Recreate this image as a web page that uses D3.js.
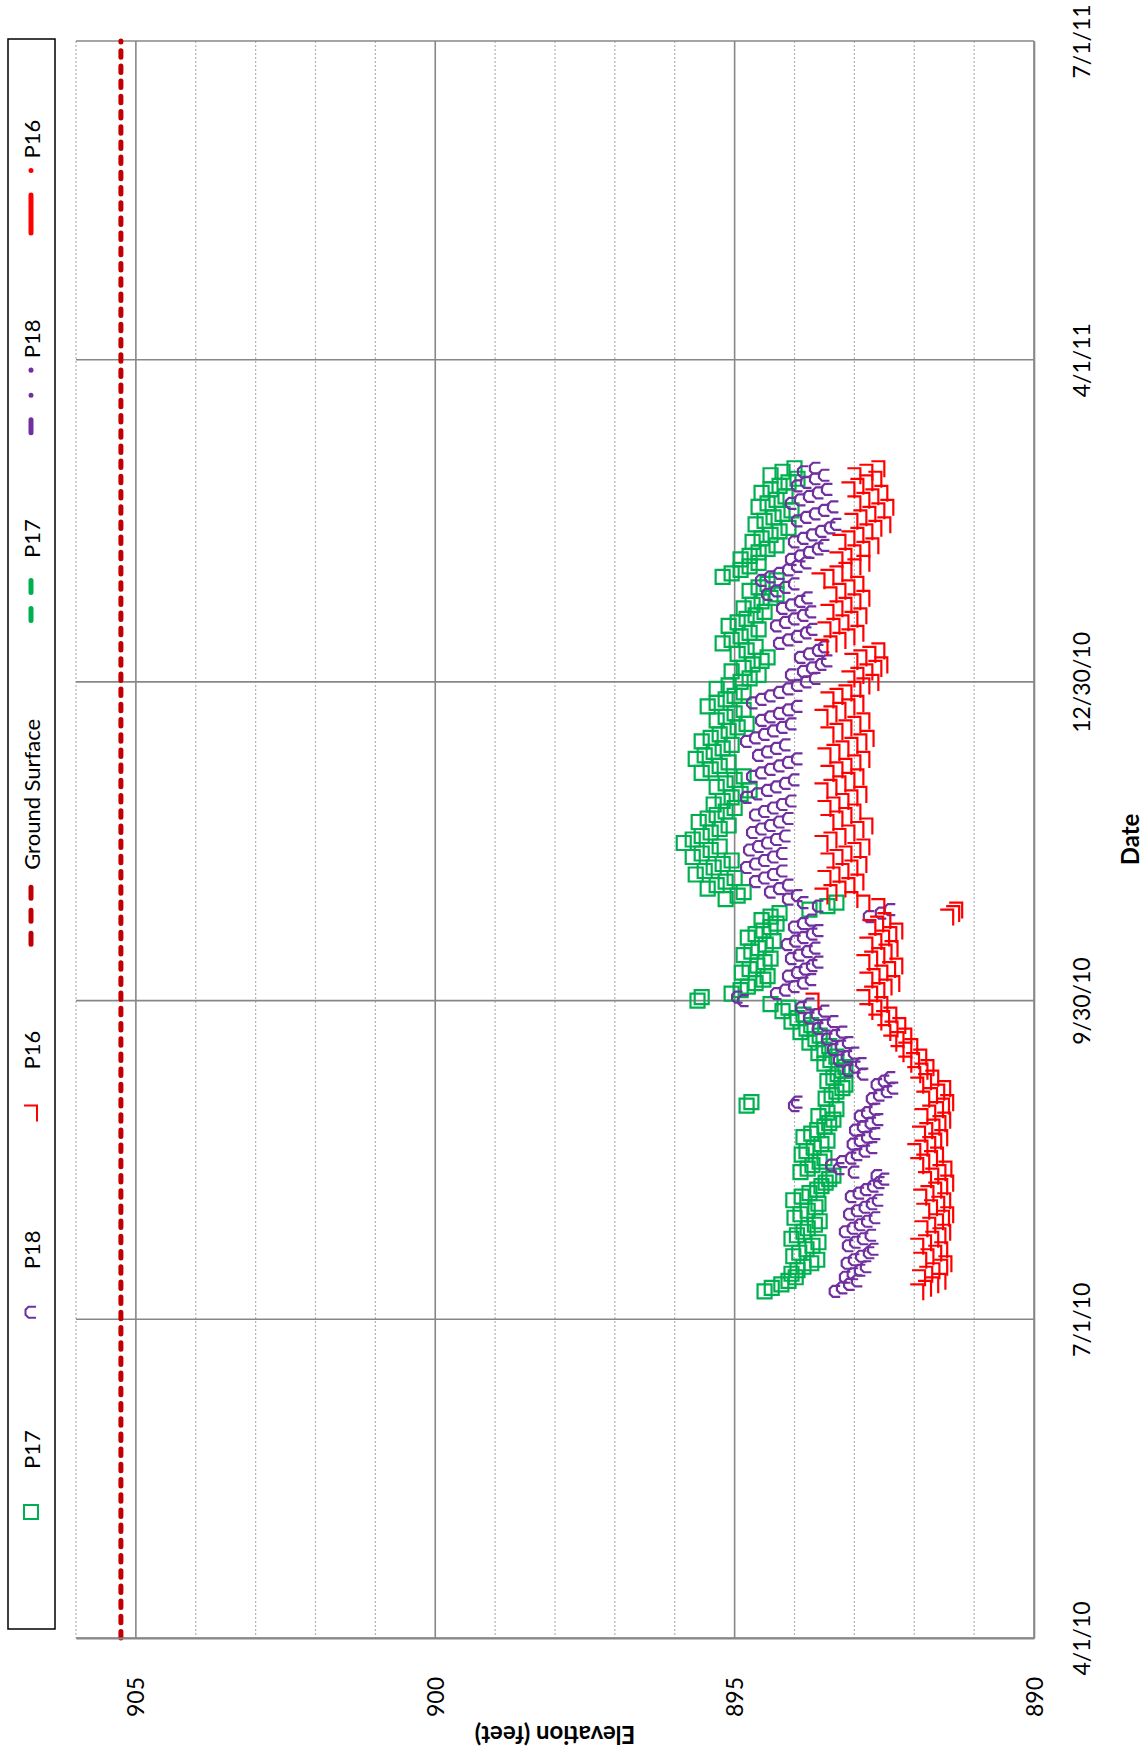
<!DOCTYPE html>
<html>
<head>
<meta charset="utf-8">
<script src="https://cdn.jsdelivr.net/npm/d3@7"></script>
<style>
  body { margin: 0; background: #fff; }
  svg { display: block; font-family: Lato, "Open Sans", sans-serif; }
</style>
</head>
<body>
<svg id="chart"></svg>
<script>
const width = 1144
const height = 1754
// plot box (the whole chart is laid out turned on its side)
const plot = { left: 76, right: 1034, top: 41, bottom: 1638 }

// daily readings, the first one taken on firstDay
const firstDay = "2010-07-09"

const p17 = [
  894.50, 894.38, 894.22, 894.10, 893.98, 894.05, 893.95, 893.85, 893.72, 893.62,
  894.02, 893.92, 893.80, 893.70, 893.60, 894.05, 893.96, 893.85, 893.78, 893.66,
  893.58, 894.00, 893.90, 893.78, 893.65, 893.60, 894.02, 893.88, 893.75, 893.62,
  893.55, 893.48, 893.42, 893.35, 893.90, 893.78, 893.70, 893.58, 893.50, 893.88,
  893.80, 893.68, 893.55, 893.45, 893.85, 893.72, 893.62, 893.50, 893.42, 893.35,
  893.60, 893.45, 893.30, 894.80, 894.72, 893.48, 893.38, 893.30, 893.20, 893.15,
  893.45, 893.35, 893.28, 893.20, 893.15, 893.50, 893.40, 893.30, 893.60, 893.50,
  893.42, 893.75, 893.65, 893.58, 893.90, 893.80, 893.72, 894.05, 893.95, 893.85,
  894.20, 894.10, 894.40, 895.62, 895.55, 895.05, 894.90, 894.78, 894.65, 894.52,
  894.45, 894.88, 894.75, 894.62, 894.50, 894.40, 894.85, 894.72, 894.60, 894.48,
  894.35, 894.78, 894.65, 894.52, 894.40, 894.30, 894.55, 894.40, 894.25, 893.75,
  893.45, 893.30, 895.15, 894.95, 894.85, 895.45, 895.30, 895.15, 895.00, 895.65,
  895.50, 895.35, 895.20, 895.05, 895.70, 895.55, 895.40, 895.25, 895.85, 895.70,
  895.55, 895.40, 895.25, 895.10, 895.60, 895.45, 895.30, 895.15, 895.00, 895.35,
  895.20, 895.05, 894.90, 894.75, 895.30, 895.15, 895.00, 894.85, 895.55, 895.40,
  895.25, 895.10, 895.65, 895.50, 895.35, 895.20, 895.05, 895.55, 895.40, 895.25,
  895.10, 894.95, 894.80, 895.30, 895.15, 895.00, 894.85, 895.45, 895.30, 895.15,
  895.00, 894.85, 895.30, 895.10, 894.90, 894.75, 894.60, 895.05, 894.85, 894.70,
  894.55, 894.45, 894.95, 894.80, 894.65, 895.20, 895.05, 894.90, 894.75, 894.60,
  895.10, 894.95, 894.80, 894.65, 894.50, 894.85, 894.70, 894.55, 894.40, 894.30,
  894.75, 894.60, 894.45, 894.30, 895.20, 895.05, 894.90, 894.75, 894.60, 894.90,
  894.75, 894.60, 894.45, 894.30, 894.70, 894.55, 894.40, 894.25, 894.10, 894.65,
  894.50, 894.35, 894.20, 894.05, 894.60, 894.45, 894.30, 894.15, 894.55, 894.40,
  894.25, 894.10, 893.95, 894.40, 894.20, 894.00
]

const p18 = [
  893.32, 893.20, 893.08, 892.95, 893.15, 893.02, 892.90, 892.80, 893.12, 893.00,
  892.88, 892.75, 892.68, 893.10, 892.98, 892.85, 892.72, 893.15, 893.02, 892.90,
  892.78, 892.65, 893.08, 892.95, 892.82, 892.70, 892.60, 893.05, 892.92, 892.80,
  892.68, 892.58, 892.50, 892.62, 893.00, 893.25, 893.38, 893.20, 893.05, 892.95,
  892.82, 892.70, 893.02, 892.90, 892.78, 892.65, 892.98, 892.85, 892.72, 892.60,
  892.90, 892.78, 892.65, 894.00, 893.95, 892.70, 892.58, 892.45, 892.35, 892.62,
  892.50, 892.40, 892.85, 893.10, 892.98, 892.88, 893.25, 893.12, 893.00, 893.35,
  893.22, 893.10, 893.45, 893.32, 893.20, 893.60, 893.48, 893.35, 893.75, 893.62,
  893.50, 893.88, 893.75, 894.85, 894.95, 894.30, 894.15, 894.00, 893.85, 893.72,
  894.10, 893.95, 893.82, 893.70, 893.60, 894.05, 893.92, 893.78, 893.65, 894.12,
  893.98, 893.85, 893.70, 893.60, 894.00, 893.85, 893.72, 892.75, 892.55, 892.40,
  893.60, 893.85, 894.10, 893.95, 894.40, 894.25, 894.10, 894.65, 894.50, 894.35,
  894.20, 894.80, 894.65, 894.50, 894.35, 894.20, 894.75, 894.60, 894.45, 894.30,
  894.15, 894.70, 894.55, 894.40, 894.25, 894.10, 894.65, 894.50, 894.35, 894.20,
  894.05, 894.80, 894.62, 894.45, 894.30, 894.15, 894.00, 894.70, 894.55, 894.40,
  894.25, 894.10, 893.95, 894.60, 894.45, 894.30, 894.15, 894.80, 894.65, 894.50,
  894.35, 894.20, 894.05, 894.55, 894.40, 894.25, 894.10, 893.95, 894.70, 894.55,
  894.40, 894.25, 894.10, 893.95, 893.80, 893.65, 894.05, 893.85, 893.70, 893.55,
  893.45, 893.90, 893.75, 893.60, 893.50, 894.25, 894.10, 893.95, 893.80, 893.70,
  894.30, 894.15, 894.00, 893.85, 893.72, 894.20, 894.05, 893.90, 893.78, 894.45,
  894.30, 894.15, 894.00, 894.55, 894.40, 894.25, 894.10, 893.95, 893.80, 894.05,
  893.90, 893.75, 893.60, 893.50, 894.00, 893.85, 893.70, 893.55, 893.40, 893.30,
  893.95, 893.80, 893.65, 893.50, 893.35, 894.05, 893.90, 893.75, 893.60, 893.45,
  893.95, 893.80, 893.65, 893.50, 893.85, 893.65
]

const p16 = [
  891.95, 891.82, 891.70, 891.58, 891.92, 891.80, 891.68, 891.55, 891.48, 891.90,
  891.78, 891.65, 891.55, 891.95, 891.82, 891.70, 891.58, 891.50, 891.88, 891.75,
  891.62, 891.52, 891.45, 891.85, 891.72, 891.60, 891.50, 891.90, 891.78, 891.65,
  891.55, 891.45, 891.82, 891.70, 891.58, 891.48, 891.95, 891.85, 891.72, 891.62,
  892.00, 891.88, 891.75, 891.65, 891.55, 891.92, 891.80, 891.68, 891.58, 891.50,
  891.88, 891.75, 891.62, 891.52, 891.45, 891.85, 891.72, 891.60, 891.50, 891.95,
  891.82, 891.70, 892.00, 891.88, 891.78, 892.15, 892.02, 891.90, 892.28, 892.15,
  892.05, 892.40, 892.28, 892.15, 892.50, 892.38, 892.25, 892.65, 892.52, 892.40,
  892.80, 892.65, 892.55, 893.70, 892.85, 892.72, 892.60, 892.48, 892.35, 892.80,
  892.68, 892.55, 892.42, 892.30, 892.85, 892.72, 892.60, 892.48, 892.38, 892.80,
  892.65, 892.52, 892.40, 892.30, 892.75, 892.62, 892.50, 891.45, 891.35, 891.30,
  892.60, 892.85, 893.05, 893.55, 893.40, 893.25, 893.10, 892.95, 893.50, 893.35,
  893.20, 893.05, 892.90, 893.45, 893.30, 893.15, 893.00, 892.85, 893.55, 893.40,
  893.25, 893.10, 892.95, 892.80, 893.45, 893.30, 893.15, 893.00, 893.50, 893.35,
  893.20, 893.05, 892.90, 893.55, 893.40, 893.25, 893.10, 892.95, 893.45, 893.30,
  893.15, 893.00, 892.85, 893.50, 893.35, 893.20, 893.05, 892.90, 892.78, 893.45,
  893.30, 893.15, 893.00, 892.85, 893.55, 893.40, 893.25, 893.10, 892.95, 893.45,
  893.30, 893.15, 893.00, 892.85, 892.70, 893.10, 892.95, 892.80, 892.65, 892.55,
  893.05, 892.90, 892.75, 892.60, 893.55, 893.40, 893.25, 893.10, 892.95, 893.50,
  893.35, 893.20, 893.05, 892.90, 893.45, 893.30, 893.15, 893.00, 892.85, 893.40,
  893.25, 893.10, 892.95, 893.60, 893.45, 893.30, 893.15, 893.00, 892.85, 893.30,
  893.15, 893.00, 892.85, 892.70, 893.25, 893.10, 892.95, 892.80, 892.65, 892.50,
  893.05, 892.90, 892.75, 892.60, 892.45, 893.00, 892.85, 892.70, 892.55, 893.10,
  892.95, 892.80, 892.65, 893.00, 892.80, 892.60
]

const groundDates = ["2010-04-01", "2011-07-01"]
const groundSurface = [905.25, 905.25]

const elevTicks = [905, 900, 895, 890]
const dateTicks = ["2010-04-01", "2010-07-01", "2010-09-30", "2010-12-30", "2011-04-01", "2011-07-01"]
const dateLabels = ["4/1/10", "7/1/10", "9/30/10", "12/30/10", "4/1/11", "7/1/11"]
const legendNames = ["P17", "P18", "P16", "Ground Surface", "P17", "P18", "P16"]

const parse = d3.utcParse("%Y-%m-%d")
const start = parse(firstDay)

const toPoints = vals => vals.map((v, i) => ({ date: d3.utcDay.offset(start, i), v }))

const green = "#00B050", purple = "#7030A0", red = "#FF0000", darkRed = "#C00000"
const gridMajor = "#878787", gridMinor = "#B4B4B4"

const shapes = {
  square: "M-7,-7H7V7H-7Z",
  bracket: "M5,-5.5H-2.5L-5.5,-2.5V2.5L-2.5,5.5H5",
  hook: "M-7,-7H6V9"
}

const series = [
  { data: toPoints(p17), color: green, shape: shapes.square },
  { data: toPoints(p18), color: purple, shape: shapes.bracket },
  { data: toPoints(p16), color: red, shape: shapes.hook }
]

const x = d3.scaleLinear()
  .domain([906, 890])
  .range([plot.left, plot.right])

const y = d3.scaleUtc()
  .domain([parse(dateTicks[0]), parse(dateTicks[dateTicks.length - 1])])
  .range([plot.bottom, plot.top])

const svg = d3.select("#chart")
  .attr("width", width)
  .attr("height", height)
  .attr("viewBox", [0, 0, width, height])

// elevation grid, solid every 5 ft, dotted every foot
svg.append("g")
  .attr("class", "grid-elev")
  .selectAll("line")
  .data(d3.range(890, 907))
  .join("line")
  .attr("x1", d => x(d)).attr("x2", d => x(d))
  .attr("y1", plot.top).attr("y2", plot.bottom)
  .attr("stroke", d => d % 5 === 0 ? gridMajor : gridMinor)
  .attr("stroke-width", d => d % 5 === 0 ? 1.6 : 1.2)
  .attr("stroke-dasharray", d => d % 5 === 0 ? null : "2,2")

svg.append("g")
  .attr("class", "grid-date")
  .selectAll("line")
  .data(dateTicks.map(parse))
  .join("line")
  .attr("x1", plot.left).attr("x2", plot.right)
  .attr("y1", d => y(d)).attr("y2", d => y(d))
  .attr("stroke", gridMajor)
  .attr("stroke-width", 1.6)

// point series
svg.append("g")
  .attr("class", "series")
  .selectAll("g")
  .data(series)
  .join("g")
  .attr("stroke", d => d.color)
  .each(function (s) {
    d3.select(this).selectAll("path")
      .data(s.data)
      .join("path")
      .attr("d", s.shape)
      .attr("transform", d => `translate(${x(d.v)},${y(d.date)})`)
      .attr("fill", "none")
      .attr("stroke-width", 2.2)
  })

// ground surface
const groundLine = d3.line()
  .x(d => x(d.v))
  .y(d => y(d.date))

svg.append("path")
  .datum(groundDates.map((d, i) => ({ date: parse(d), v: groundSurface[i] })))
  .attr("d", groundLine)
  .attr("fill", "none")
  .attr("stroke", darkRed)
  .attr("stroke-width", 5)
  .attr("stroke-linecap", "round")
  .attr("stroke-dasharray", "6.5,8.7")

// elevation axis (bottom)
svg.append("g")
  .attr("transform", `translate(0,${plot.bottom})`)
  .call(d3.axisBottom(x).tickValues(elevTicks).tickSize(0).tickFormat(d3.format("d")))
  .call(g => g.select(".domain").attr("stroke", gridMajor).attr("stroke-width", 1.8))
  .call(g => g.selectAll(".tick text")
    .attr("y", null)
    .attr("dy", "0.35em")
    .attr("text-anchor", "end")
    .attr("transform", "translate(0,39) rotate(-90)")
    .attr("font-size", 23)
    .attr("font-family", "Lato")
    .attr("fill", "#000"))

// date axis (right)
svg.append("g")
  .attr("transform", `translate(${plot.right},0)`)
  .call(d3.axisRight(y).tickValues(dateTicks.map(parse)).tickSize(0)
    .tickFormat((d, i) => dateLabels[i]))
  .call(g => g.select(".domain").attr("stroke", gridMajor).attr("stroke-width", 1.6))
  .call(g => g.selectAll(".tick text")
    .attr("x", null)
    .attr("dy", null)
    .attr("text-anchor", "middle")
    .attr("transform", "translate(56,0) rotate(-90)")
    .attr("font-size", 23)
    .attr("font-family", "Lato")
    .attr("fill", "#000"))

// axis titles
svg.append("text")
  .attr("transform", `translate(${(plot.left + plot.right) / 2},1726) rotate(180)`)
  .attr("text-anchor", "middle")
  .attr("font-weight", "bold")
  .attr("font-size", 24)
  .text("Elevation (feet)")

svg.append("text")
  .attr("transform", `translate(1139,${(plot.top + plot.bottom) / 2}) rotate(-90)`)
  .attr("text-anchor", "middle")
  .attr("font-weight", "bold")
  .attr("font-size", 24)
  .text("Date")

// legend
const legend = svg.append("g").attr("class", "legend")

legend.append("rect")
  .attr("x", 8).attr("y", 39)
  .attr("width", 47).attr("height", 1590)
  .attr("fill", "#fff")
  .attr("stroke", "#000")
  .attr("stroke-width", 1.5)

const legendSamples = [
  { shape: shapes.square, color: green },
  { shape: shapes.bracket, color: purple },
  { shape: shapes.hook, color: red },
  { line: true, color: darkRed, dash: "11,12" },
  { line: true, color: green, dash: "12,16,12,100", offset: -12 },
  { line: true, color: purple, dash: "13,24.5,0.01,25,0.01,100" },
  { line: true, color: red, dash: "38,24.5,0.01,100" }
]

let c = 1512
legendNames.forEach((name, i) => {
  const s = legendSamples[i]
  const item = legend.append("g").attr("transform", `translate(31,${c})`)
  if (s.line) {
    item.append("path")
      .attr("d", "M0,31.5V-31.5")
      .attr("stroke", s.color)
      .attr("stroke-width", 5)
      .attr("stroke-linecap", "round")
      .attr("stroke-dasharray", s.dash)
      .attr("stroke-dashoffset", s.offset || 0)
  } else {
    item.append("path")
      .attr("d", s.shape)
      .attr("fill", "none")
      .attr("stroke", s.color)
      .attr("stroke-width", 2)
  }
  const t = item.append("text")
    .attr("transform", "translate(9,-43) rotate(-90)")
    .attr("font-size", 22)
    .text(name)
  c = c - 43 - t.node().getComputedTextLength() - 118
})
</script>
</body>
</html>
